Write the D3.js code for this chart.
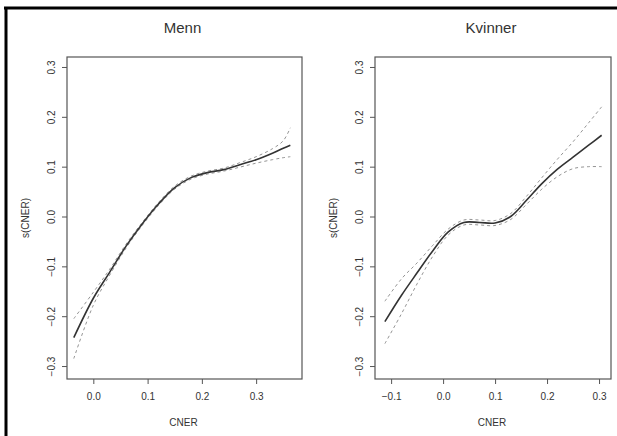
<!DOCTYPE html>
<html lang="en">
<head>
<meta charset="utf-8">
<title>s(CNER) - Menn og Kvinner</title>
<script src="https://cdn.jsdelivr.net/npm/d3@7"></script>
<style>
  body { margin: 0; background: #fff; }
  text { font-family: "Liberation Sans", Arial, sans-serif; fill: #333; }
</style>
</head>
<body>
<script>
// data
var mennX     = [-0.036, 0.0, 0.03, 0.06, 0.09, 0.12, 0.15, 0.18, 0.21, 0.24, 0.27, 0.30, 0.33, 0.35, 0.363];
var mennFit   = [-0.243, -0.164, -0.112, -0.060, -0.015, 0.025, 0.058, 0.078, 0.088, 0.094, 0.104, 0.114, 0.127, 0.137, 0.143];
var mennUpper = [-0.205, -0.152, -0.106, -0.056, -0.012, 0.028, 0.061, 0.081, 0.091, 0.097, 0.108, 0.120, 0.136, 0.152, 0.178];
var mennLower = [-0.285, -0.178, -0.118, -0.064, -0.018, 0.022, 0.055, 0.075, 0.085, 0.091, 0.099, 0.107, 0.114, 0.118, 0.120];

var kvinnerX     = [-0.112, -0.08, -0.05, -0.02, 0.01, 0.04, 0.07, 0.10, 0.13, 0.16, 0.19, 0.22, 0.25, 0.28, 0.305];
var kvinnerFit   = [-0.211, -0.158, -0.113, -0.069, -0.031, -0.012, -0.012, -0.013, 0.000, 0.032, 0.066, 0.095, 0.119, 0.143, 0.163];
var kvinnerUpper = [-0.170, -0.125, -0.093, -0.058, -0.025, -0.007, -0.007, -0.008, 0.006, 0.040, 0.078, 0.115, 0.150, 0.188, 0.220];
var kvinnerLower = [-0.255, -0.195, -0.135, -0.080, -0.037, -0.017, -0.017, -0.018, -0.006, 0.024, 0.055, 0.080, 0.096, 0.100, 0.100];

var yTicks = [-0.3, -0.2, -0.1, 0.0, 0.1, 0.2, 0.3];
var mennXTicks = [0.0, 0.1, 0.2, 0.3];
var kvinnerXTicks = [-0.1, 0.0, 0.1, 0.2, 0.3];

var width = 617, height = 436;

var svg = d3.select("body").append("svg")
  .attr("width", width)
  .attr("height", height);

// cropped outer frame (only top and left edges show)
svg.append("line").attr("x1", 4).attr("x2", width).attr("y1", 8).attr("y2", 8)
  .attr("stroke", "#000").attr("stroke-width", 3);
svg.append("line").attr("x1", 6).attr("x2", 6).attr("y1", 7).attr("y2", height)
  .attr("stroke", "#000").attr("stroke-width", 3);

function panel(title, xs, fit, upper, lower, xTicks, box, xDomain) {
  var x = d3.scaleLinear().domain(xDomain).range([box.left, box.right]);
  var y = d3.scaleLinear().domain([-0.326, 0.32]).range([box.bottom, box.top]);
  var fmt = d3.format(".1f");

  var g = svg.append("g");

  // plot box
  g.append("rect")
    .attr("x", box.left).attr("y", box.top)
    .attr("width", box.right - box.left).attr("height", box.bottom - box.top)
    .attr("fill", "none").attr("stroke", "#555").attr("stroke-width", 1.2);

  // axes
  var xAxis = d3.axisBottom(x).tickValues(xTicks).tickFormat(fmt).tickSize(5).tickPadding(9);
  var gx = g.append("g")
    .attr("transform", "translate(0," + box.bottom + ")")
    .call(xAxis);
  gx.select(".domain").remove();
  gx.selectAll("line").attr("stroke", "#555");
  gx.selectAll("text").style("font-size", "10px").attr("fill", "#444");

  var yAxis = d3.axisLeft(y).tickValues(yTicks).tickFormat(fmt).tickSize(5);
  var gy = g.append("g")
    .attr("transform", "translate(" + box.left + ",0)")
    .call(yAxis);
  gy.select(".domain").remove();
  gy.selectAll("line").attr("stroke", "#555");
  gy.selectAll("text")
    .style("font-size", "10px").attr("fill", "#444")
    .attr("x", null).attr("dy", null)
    .attr("text-anchor", "middle")
    .attr("transform", "translate(-16,0) rotate(-90)")
    .attr("dy", "0.35em");

  // titles and labels
  var cx = (box.left + box.right) / 2;
  g.append("text").attr("x", cx - 2).attr("y", 33)
    .attr("text-anchor", "middle").style("font-size", "15px").attr("fill", "#222")
    .text(title);
  g.append("text").attr("x", cx - 1).attr("y", 426)
    .attr("text-anchor", "middle").style("font-size", "10px").attr("fill", "#444")
    .text("CNER");
  g.append("text")
    .attr("transform", "translate(" + (box.left - 38) + "," + ((box.top + box.bottom) / 2) + ") rotate(-90)")
    .attr("text-anchor", "middle").style("font-size", "10px").attr("fill", "#444")
    .text("s(CNER)");

  // curves
  var line = d3.line()
    .x(function(d) { return x(d[0]); })
    .y(function(d) { return y(d[1]); })
    .curve(d3.curveCatmullRom);

  function pts(vals) { return xs.map(function(v, i) { return [v, vals[i]]; }); }

  [upper, lower].forEach(function(band) {
    g.append("path").datum(pts(band))
      .attr("d", line).attr("fill", "none")
      .attr("stroke", "#888").attr("stroke-width", 0.9)
      .attr("stroke-dasharray", "3,3");
  });
  g.append("path").datum(pts(fit))
    .attr("d", line).attr("fill", "none")
    .attr("stroke", "#333").attr("stroke-width", 1.6);
}

panel("Menn", mennX, mennFit, mennUpper, mennLower, mennXTicks,
      {left: 67, right: 302, top: 57, bottom: 379}, [-0.0485, 0.3845]);
panel("Kvinner", kvinnerX, kvinnerFit, kvinnerUpper, kvinnerLower, kvinnerXTicks,
      {left: 375, right: 611, top: 57, bottom: 379}, [-0.131, 0.323]);
</script>
</body>
</html>
